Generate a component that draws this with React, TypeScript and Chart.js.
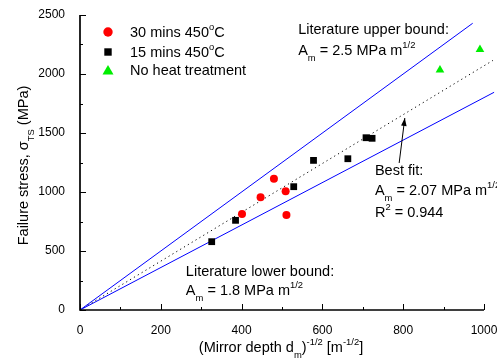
import React, { useEffect, useRef } from 'react';
import { Chart, registerables } from 'chart.js';

Chart.register(...registerables);

const FONT = "'Liberation Sans', Arial, sans-serif";

// ---- data ----
const heat30X = [401, 447, 480, 509, 511];
const heat30Y = [814, 955, 1113, 1006, 805];
const heat15X = [326, 385, 529, 578, 663, 708, 723];
const heat15Y = [579, 760, 1045, 1268, 1282, 1460, 1455];
const noHeatX = [891, 990];
const noHeatY = [2034, 2207];

const upperX = [0, 972];
const upperY = [0, 2430];
const lowerX = [0, 1025];
const lowerY = [0, 1845];
const fitX = [0, 1022];
const fitY = [0, 2115];

const xTicks = [0, 200, 400, 600, 800, 1000];
const yTicks = [0, 500, 1000, 1500, 2000, 2500];

const legendLabels = ['30 mins 450', '15 mins 450', 'No heat treatment'];

// annotation anchors in data units
const arrowFrom = { x: 790, y: 1246 };
const arrowTo = { x: 804, y: 1627 };

type Seg = { t: string; m?: 'sub' | 'sup' };

function richWidth(ctx: CanvasRenderingContext2D, segs: Seg[], size: number) {
  let w = 0;
  for (const s of segs) {
    const fs = s.m ? size * 0.65 : size;
    ctx.font = `${fs}px ${FONT}`;
    w += ctx.measureText(s.t).width;
  }
  return w;
}

function drawRich(ctx: CanvasRenderingContext2D, x: number, y: number, segs: Seg[], size: number, align: 'left' | 'center' = 'left') {
  ctx.save();
  ctx.fillStyle = '#000';
  ctx.textBaseline = 'alphabetic';
  ctx.textAlign = 'left';
  let cx = x;
  if (align === 'center') cx = x - richWidth(ctx, segs, size) / 2;
  for (const s of segs) {
    const fs = s.m ? size * 0.65 : size;
    ctx.font = `${fs}px ${FONT}`;
    const dy = s.m === 'sub' ? size * 0.4 : s.m === 'sup' ? -size * 0.5 : 0;
    ctx.fillText(s.t, cx, y + dy);
    cx += ctx.measureText(s.t).width;
  }
  ctx.restore();
}

const toPts = (xs: number[], ys: number[]) => xs.map((v, i) => ({ x: v, y: ys[i] }));

const decor = {
  id: 'decor',
  afterDraw(chart: any) {
    const { ctx, chartArea, scales } = chart;
    const xs = scales.x;
    const ys = scales.y;
    const { left, right, top, bottom } = chartArea;
    ctx.save();
    // axis lines
    ctx.strokeStyle = '#000';
    ctx.lineWidth = 1.7;
    ctx.beginPath();
    ctx.moveTo(left, top);
    ctx.lineTo(left, bottom);
    ctx.lineTo(right, bottom);
    ctx.stroke();
    // ticks (inward)
    ctx.lineWidth = 1;
    for (let i = 0; i < xTicks.length; i++) {
      const px = Math.round(xs.getPixelForValue(xTicks[i])) + 0.5;
      ctx.beginPath();
      ctx.moveTo(px, bottom);
      ctx.lineTo(px, bottom - 6);
      ctx.stroke();
      if (i < xTicks.length - 1) {
        const mx = Math.round(xs.getPixelForValue((xTicks[i] + xTicks[i + 1]) / 2)) + 0.5;
        ctx.beginPath();
        ctx.moveTo(mx, bottom);
        ctx.lineTo(mx, bottom - 3);
        ctx.stroke();
      }
    }
    for (let i = 0; i < yTicks.length; i++) {
      const py = Math.round(ys.getPixelForValue(yTicks[i])) + 0.5;
      ctx.beginPath();
      ctx.moveTo(left, py);
      ctx.lineTo(left + 6, py);
      ctx.stroke();
      if (i < yTicks.length - 1) {
        const my = Math.round(ys.getPixelForValue((yTicks[i] + yTicks[i + 1]) / 2)) + 0.5;
        ctx.beginPath();
        ctx.moveTo(left, my);
        ctx.lineTo(left + 3, my);
        ctx.stroke();
      }
    }

    // legend
    const lx = left + 28;
    const ly = [top + 17, top + 37, top + 55.5];
    ctx.fillStyle = '#ff0000';
    ctx.beginPath();
    ctx.arc(lx, ly[0], 4.7, 0, Math.PI * 2);
    ctx.fill();
    ctx.fillStyle = '#000';
    ctx.fillRect(lx - 3.7, ly[1] - 3.7, 7.4, 7.4);
    ctx.fillStyle = '#00ee00';
    ctx.beginPath();
    ctx.moveTo(lx, ly[2] - 5.5);
    ctx.lineTo(lx + 5.5, ly[2] + 4);
    ctx.lineTo(lx - 5.5, ly[2] + 4);
    ctx.closePath();
    ctx.fill();
    const tx = left + 50;
    const fs = 14.5;
    drawRich(ctx, tx, ly[0] + 5, [{ t: legendLabels[0] }, { t: 'o', m: 'sup' }, { t: 'C' }], fs);
    drawRich(ctx, tx, ly[1] + 5, [{ t: legendLabels[1] }, { t: 'o', m: 'sup' }, { t: 'C' }], fs);
    drawRich(ctx, tx, ly[2] + 4, [{ t: legendLabels[2] }], fs);

    // annotations
    const X = (v: number) => xs.getPixelForValue(v);
    const Y = (v: number) => ys.getPixelForValue(v);
    drawRich(ctx, X(540), Y(2339), [{ t: 'Literature upper bound:' }], fs);
    drawRich(ctx, X(540), Y(2161), [{ t: 'A' }, { t: 'm', m: 'sub' }, { t: ' = 2.5 MPa m' }, { t: '1/2', m: 'sup' }], fs);
    drawRich(ctx, X(730), Y(1144), [{ t: 'Best fit:' }], fs);
    drawRich(ctx, X(730), Y(975), [{ t: 'A' }, { t: 'm', m: 'sub' }, { t: ' = 2.07 MPa m' }, { t: '1/2', m: 'sup' }], fs);
    drawRich(ctx, X(730), Y(788), [{ t: 'R' }, { t: '2', m: 'sup' }, { t: ' = 0.944' }], fs);
    drawRich(ctx, X(262), Y(291), [{ t: 'Literature lower bound:' }], fs);
    drawRich(ctx, X(262), Y(127), [{ t: 'A' }, { t: 'm', m: 'sub' }, { t: ' = 1.8 MPa m' }, { t: '1/2', m: 'sup' }], fs);

    // arrow
    const ax0 = X(arrowFrom.x), ay0 = Y(arrowFrom.y), ax1 = X(arrowTo.x), ay1 = Y(arrowTo.y);
    ctx.strokeStyle = '#000';
    ctx.fillStyle = '#000';
    ctx.lineWidth = 1;
    ctx.beginPath();
    ctx.moveTo(ax0, ay0);
    ctx.lineTo(ax1, ay1);
    ctx.stroke();
    const ang = Math.atan2(ay1 - ay0, ax1 - ax0);
    const hl = 8, hw = 2.8;
    ctx.beginPath();
    ctx.moveTo(ax1, ay1);
    ctx.lineTo(ax1 - hl * Math.cos(ang) + hw * Math.sin(ang), ay1 - hl * Math.sin(ang) - hw * Math.cos(ang));
    ctx.lineTo(ax1 - hl * Math.cos(ang) - hw * Math.sin(ang), ay1 - hl * Math.sin(ang) + hw * Math.cos(ang));
    ctx.closePath();
    ctx.fill();

    // axis titles
    const tfs = 14.5;
    drawRich(ctx, (left + right) / 2 - 1, 352,
      [{ t: '(Mirror depth d' }, { t: 'm', m: 'sub' }, { t: ')' }, { t: '-1/2', m: 'sup' }, { t: ' [m' }, { t: '-1/2', m: 'sup' }, { t: ']' }],
      tfs, 'center');
    ctx.save();
    ctx.translate(28, 165.5);
    ctx.rotate(-Math.PI / 2);
    drawRich(ctx, 0, 0, [{ t: 'Failure stress, \u03c3' }, { t: 'TS', m: 'sub' }, { t: ' (MPa)' }], tfs, 'center');
    ctx.restore();

    ctx.restore();
  },
};

export default function App() {
  const ref = useRef<HTMLCanvasElement>(null);
  useEffect(() => {
    if (!ref.current) return;
    const chart = new Chart(ref.current, {
      type: 'scatter',
      data: {
        datasets: [
          { label: '30 mins 450°C', data: toPts(heat30X, heat30Y), pointStyle: 'circle', pointRadius: 4, backgroundColor: '#ff0000', borderWidth: 0, clip: false } as any,
          { label: '15 mins 450°C', data: toPts(heat15X, heat15Y), pointStyle: 'rect', pointRadius: 4.8, backgroundColor: '#000000', borderWidth: 0, clip: false } as any,
          { label: 'No heat treatment', data: toPts(noHeatX, noHeatY), pointStyle: 'triangle', pointRadius: 5, backgroundColor: '#00ee00', borderWidth: 0, clip: false } as any,
          { label: 'upper', data: toPts(upperX, upperY), showLine: true, pointRadius: 0, borderColor: '#0000ff', borderWidth: 1, clip: false } as any,
          { label: 'lower', data: toPts(lowerX, lowerY), showLine: true, pointRadius: 0, borderColor: '#0000ff', borderWidth: 1, clip: false } as any,
          { label: 'fit', data: toPts(fitX, fitY), showLine: true, pointRadius: 0, borderColor: '#000000', borderWidth: 1, borderDash: [1.2, 3.3], clip: false } as any,
        ],
      },
      options: {
        responsive: false,
        devicePixelRatio: 1,
        animation: false,
        layout: { padding: { left: 0, right: 13, top: 15, bottom: 0 } },
        plugins: { legend: { display: false }, tooltip: { enabled: false } },
        scales: {
          x: {
            type: 'linear', min: 0, max: 1000,
            grid: { display: false }, border: { display: false },
            ticks: { stepSize: 200, color: '#000', font: { size: 12, family: FONT }, padding: 5, maxRotation: 0, callback: (v: any) => String(v) },
            afterFit: (s: any) => { s.height = 48; s.paddingLeft = 0; s.paddingRight = 0; },
          },
          y: {
            type: 'linear', min: 0, max: 2500,
            grid: { display: false }, border: { display: false },
            ticks: { stepSize: 500, color: '#000', font: { size: 12, family: FONT }, padding: 7, callback: (v: any) => String(v) },
            afterFit: (s: any) => { s.width = 80; s.paddingTop = 0; s.paddingBottom = 0; },
          },
        },
      } as any,
      plugins: [decor],
    });
    return () => chart.destroy();
  }, []);
  return (
    <div style={{ position: 'absolute', left: 0, top: 0, width: 497, height: 358, background: '#fff' }}>
      <canvas ref={ref} width={497} height={358} style={{ display: 'block' }} />
    </div>
  );
}
